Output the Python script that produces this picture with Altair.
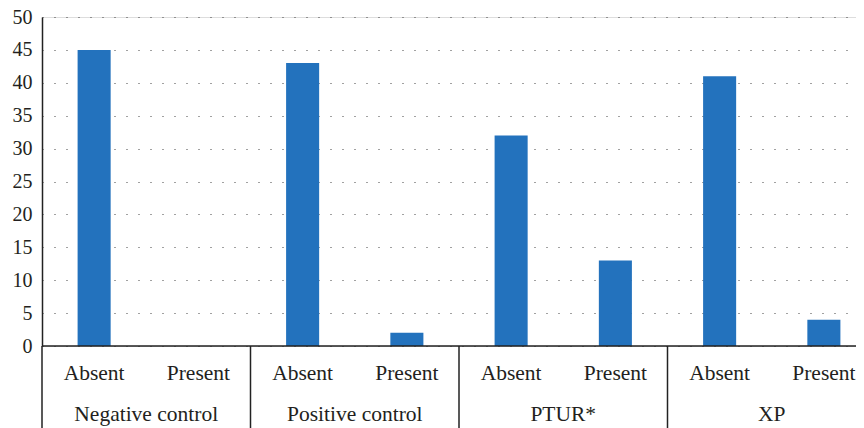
import altair as alt
import pandas as pd

groups = ["Negative control", "Positive control", "PTUR*", "XP"]
conditions = ["Absent", "Present"]
absent_values = [45, 43, 32, 41]
present_values = [0, 2, 13, 4]
y_ticks = [0, 5, 10, 15, 20, 25, 30, 35, 40, 45, 50]

rows = []
for g, a, p in zip(groups, absent_values, present_values):
    rows.append({"group": g, "condition": "Absent", "slot": g + "|Absent", "value": a})
    rows.append({"group": g, "condition": "Present", "slot": g + "|Present", "value": p})
df = pd.DataFrame(rows)
slots = list(df["slot"])
df_abs = df[df["condition"] == "Absent"]

FONT = "Liberation Serif"
TXT = "#231f20"

xscale = alt.Scale(domain=slots, paddingInner=0, paddingOuter=0)
yscale = alt.Scale(domain=[0, 50], nice=False)
yaxis = alt.Axis(
    title=None,
    values=y_ticks,
    ticks=False,
    labelOverlap=False,
    labelPadding=10,
    labelFont=FONT,
    labelFontSize=20,
    labelColor=TXT,
    domainColor="#222",
    domainWidth=1.5,
    grid=True,
    gridDash=[1, 11],
    gridColor="#444",
    gridWidth=1.2,
)

base = alt.Chart(df)

bars = base.mark_bar(color="#2372bd", width=alt.RelativeBandSize(0.317)).encode(
    x=alt.X("slot:N", scale=xscale, axis=None, sort=slots),
    y=alt.Y("value:Q", scale=yscale, axis=yaxis),
)

xline = alt.Chart(pd.DataFrame({"value": [0]})).mark_rule(color="#222", strokeWidth=1.5).encode(
    y=alt.Y("value:Q", scale=yscale, axis=yaxis)
)

cond_text = base.mark_text(
    font=FONT, fontSize=21.5, color=TXT, baseline="alphabetic", align="center"
).encode(
    x=alt.X("slot:N", scale=xscale, sort=slots, bandPosition=0.5),
    y=alt.value(363),
    text="condition:N",
)

group_text = alt.Chart(df_abs).mark_text(
    font=FONT, fontSize=21.5, color=TXT, baseline="alphabetic", align="center"
).encode(
    x=alt.X("slot:N", scale=xscale, sort=slots, bandPosition=1),
    y=alt.value(404),
    text="group:N",
)

seps = alt.Chart(df_abs).mark_rule(color="#222", strokeWidth=1.5).encode(
    x=alt.X("slot:N", scale=xscale, sort=slots, bandPosition=0),
    y=alt.value(329),
    y2=alt.value(420),
)

chart = (
    alt.layer(bars, xline, seps, cond_text, group_text)
    .properties(
        width=834,
        height=329,
        autosize=alt.AutoSizeParams(type="none"),
        padding={"left": 34, "top": 9, "right": -20, "bottom": 82},
    )
    .configure_view(stroke=None)
    .configure(background="white")
)

chart.save("out.html", embed_options={"renderer": "svg", "actions": False})
